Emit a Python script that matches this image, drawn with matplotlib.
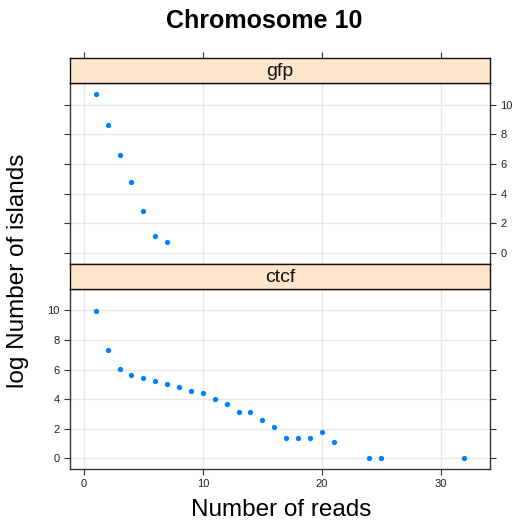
import matplotlib
matplotlib.use("Agg")
import matplotlib.pyplot as plt

plt.rcParams['font.family'] = ['Liberation Sans', 'DejaVu Sans']

# data
gfp_reads = [1, 2, 3, 4, 5, 6, 7]
gfp_log = [10.72, 8.63, 6.61, 4.79, 2.83, 1.15, 0.74]

ctcf_reads = [1, 2, 3, 4, 5, 6, 7, 8, 9, 10, 11, 12, 13, 14, 15, 16, 17, 18, 19, 20, 21, 24, 25, 32]
ctcf_log = [9.93, 7.32, 6.04, 5.63, 5.43, 5.23, 5.03, 4.82, 4.55, 4.42, 4.01, 3.68,
            3.14, 3.14, 2.59, 2.12, 1.38, 1.38, 1.38, 1.79, 1.10, 0.0, 0.0, 0.0]

panels = ['gfp', 'ctcf']
xticks = [0, 10, 20, 30]
yticks = [0, 2, 4, 6, 8, 10]
title = 'Chromosome 10'
xlabel = 'Number of reads'
ylabel = 'log Number of islands'

W, H = 517, 522
fig = plt.figure(figsize=(W / 100, H / 100), dpi=100)

def rect(left, top, right, bottom):
    return [left / W, (H - bottom) / H, (right - left) / W, (bottom - top) / H]

L, R = 70, 490.3
xlim = (-1.17, 34.17)
ylim = (-0.75, 11.47)
strip_color = '#FFE5CC'
pt_color = '#0080FF'
grid_color = '#E8E8E8'
frame_color = '#333333'

ax_gfp = fig.add_axes(rect(L, 83, R, 264))
ax_ctcf = fig.add_axes(rect(L, 288.7, R, 469.3))
st_gfp = fig.add_axes(rect(L, 58.3, R, 83))
st_ctcf = fig.add_axes(rect(L, 264, R, 288.7))

for ax, xs, ys in [(ax_gfp, gfp_reads, gfp_log), (ax_ctcf, ctcf_reads, ctcf_log)]:
    ax.set_xlim(xlim)
    ax.set_ylim(ylim)
    ax.set_xticks(xticks)
    ax.set_yticks(yticks)
    ax.grid(True, color=grid_color, lw=1.0)
    ax.set_axisbelow(True)
    ax.plot(xs, ys, 'o', color=pt_color, ms=3.8, mec='none')
    for s in ax.spines.values():
        s.set_color(frame_color)
        s.set_linewidth(1.0)
    ax.tick_params(direction='out', length=4.3, width=0.8, color=frame_color,
                   labelsize=8, labelcolor='#222222', pad=3)

ax_gfp.tick_params(axis='x', bottom=False, labelbottom=False, top=False)
ax_gfp.tick_params(axis='y', left=True, labelleft=False, right=True, labelright=True)
ax_ctcf.tick_params(axis='x', bottom=True, labelbottom=True, top=False)
ax_ctcf.tick_params(axis='y', left=True, labelleft=True, right=True, labelright=False)

for st, name in [(st_gfp, panels[0]), (st_ctcf, panels[1])]:
    st.set_facecolor(strip_color)
    st.set_xlim(xlim)
    st.set_ylim(0, 1)
    st.set_yticks([])
    for s in st.spines.values():
        s.set_color('#111111')
        s.set_linewidth(1.0)
    st.text(0.5, 0.45, name, transform=st.transAxes, ha='center', va='center',
            fontsize=14, color='#111111')

st_gfp.set_xticks(xticks)
st_gfp.tick_params(axis='x', bottom=False, labelbottom=False, top=True, labeltop=False,
                   direction='out', length=4.3, width=0.8, color=frame_color)
st_ctcf.set_xticks([])

fig.text(264 / W, 1 - 20.5 / H, title, ha='center', va='center', fontsize=18,
         fontweight='bold', color='black')
fig.text(281 / W, 1 - 510 / H, xlabel, ha='center', va='center', fontsize=17.5)
fig.text(18 / W, 1 - 271 / H, ylabel, ha='center', va='center', fontsize=17.5,
         rotation=90)

fig.savefig('out.png', dpi=100)
